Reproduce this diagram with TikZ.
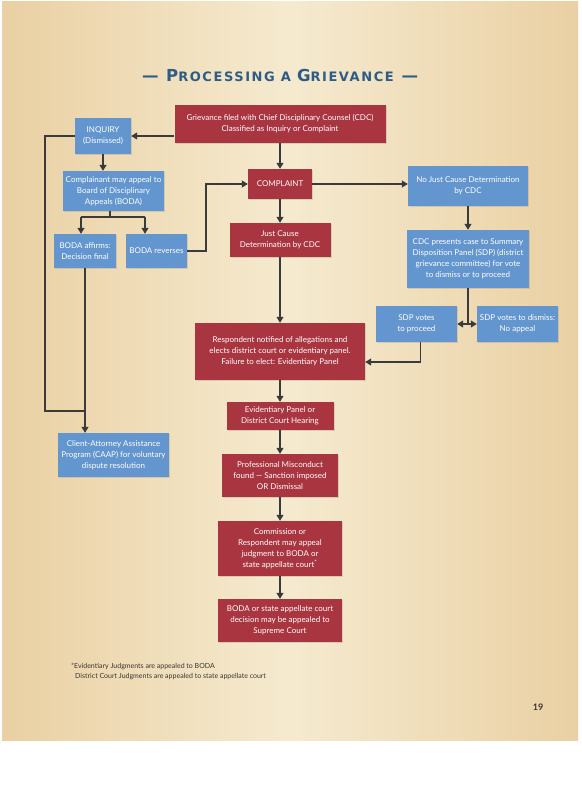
\documentclass[tikz,border=0pt]{standalone}
\usepackage{fontspec}
\setmainfont{Lato}
\newfontfamily\titlefont[LetterSpace=12]{DejaVu Sans}
\usetikzlibrary{arrows.meta,shadows}
\definecolor{bgdark}{HTML}{EAD0A3}
\definecolor{bglight}{HTML}{F5EACF}
\definecolor{boxred}{HTML}{A93540}
\definecolor{boxblue}{HTML}{6395CF}
\definecolor{ln}{HTML}{3A3A3A}
\definecolor{ttl}{HTML}{2D5C86}
\definecolor{note}{HTML}{3A3530}
\tikzset{
  box/.style={draw=none, text=white, align=center, inner sep=2pt,
    font=\fontsize{8}{11}\selectfont,
    drop shadow={opacity=0.25, shadow xshift=1pt, shadow yshift=-1pt}},
  redbox/.style={box, fill=boxred},
  bluebox/.style={box, fill=boxblue},
  conn/.style={draw=ln, line width=1.2pt},
  arr/.style={conn, -{Triangle[width=7pt,length=6pt]}},
  notetext/.style={text=note, anchor=west, inner sep=0pt, font=\fontsize{7}{8}\selectfont}
}
\begin{document}
\begin{tikzpicture}[x=1pt,y=-1pt]
\useasboundingbox (0,0) rectangle (581,800);
\fill[white] (0,0) rectangle (581,800);
\shade[left color=bgdark, right color=bgdark, middle color=bglight] (2,2) rectangle (578,740);

% title
\node[text=ttl, inner sep=0pt] (title) at (280,75)
  {\titlefont\bfseries{\fontsize{16.5}{16.5}\selectfont — P}{\fontsize{13}{13}\selectfont ROCESSING A }{\fontsize{16.5}{16.5}\selectfont G}{\fontsize{13}{13}\selectfont RIEVANCE}{\fontsize{16.5}{16.5}\selectfont\ —}};

% nodes
\node[redbox, minimum width=211pt, minimum height=38pt] (griev) at (280,124)
  {Grievance filed with Chief Disciplinary Counsel (CDC)\\Classified as Inquiry or Complaint};
\node[bluebox, minimum width=56pt, minimum height=36pt] (inq) at (103,136)
  {INQUIRY\\(Dismissed)};
\node[bluebox, minimum width=101pt, minimum height=40pt] (compl) at (113.5,191)
  {Complainant may appeal to\\Board of Disciplinary\\Appeals (BODA)};
\node[redbox, minimum width=64pt, minimum height=30pt] (complaint) at (280,184)
  {COMPLAINT};
\node[bluebox, minimum width=120pt, minimum height=40pt] (nojust) at (468,186)
  {No Just Cause Determination\\by CDC};
\node[bluebox, minimum width=122pt, minimum height=58pt] (cdcp) at (468,259)
  {CDC presents case to Summary\\Disposition Panel (SDP) (district\\grievance committee) for vote\\to dismiss or to proceed};
\node[bluebox, minimum width=81pt, minimum height=36pt] (proceed) at (416.5,324)
  {SDP votes\\to proceed};
\node[bluebox, minimum width=81pt, minimum height=36pt] (dismiss) at (517.5,324)
  {SDP votes to dismiss:\\No appeal};
\node[bluebox, minimum width=62pt, minimum height=34pt] (affirms) at (85,251)
  {BODA affirms:\\Decision final};
\node[bluebox, minimum width=61pt, minimum height=34pt] (reverses) at (156.5,251)
  {BODA reverses};
\node[redbox, minimum width=101pt, minimum height=34pt] (justcause) at (280,240)
  {Just Cause\\Determination by CDC};
\node[redbox, minimum width=170pt, minimum height=57pt] (resp) at (280,351.5)
  {Respondent notified of allegations and\\elects district court or evidentiary panel.\\Failure to elect: Evidentiary Panel};
\node[redbox, minimum width=107pt, minimum height=28pt] (evid) at (280,416)
  {Evidentiary Panel or\\District Court Hearing};
\node[bluebox, minimum width=111pt, minimum height=44pt] (caap) at (113.5,455)
  {Client-Attorney Assistance\\Program (CAAP) for voluntary\\dispute resolution};
\node[redbox, minimum width=116pt, minimum height=43pt] (prof) at (280,475.5)
  {Professional Misconduct\\found — Sanction imposed\\OR Dismissal};
\node[redbox, minimum width=124pt, minimum height=55pt] (comm) at (280,548.5)
  {Commission or\\Respondent may appeal\\judgment to BODA or\\state appellate court\textsuperscript{*}};
\node[redbox, minimum width=124pt, minimum height=43pt] (boda2) at (280,620.5)
  {BODA or state appellate court\\decision may be appealed to\\Supreme Court};

% helper coordinates
\coordinate (leftbend) at (45,411);
\coordinate (split) at (110,217);
\coordinate (splitL) at (81,217);
\coordinate (splitR) at (145,217);
\coordinate (revbend) at (206,184);
\coordinate (sdpsplit) at (468,324);
\coordinate (procout) at (420.5,342);

% connectors
\draw[arr] (griev.west |- inq.east) -- (inq.east);
\draw[arr] (griev.south) -- (complaint.north);
\draw[conn] (inq.west) -| (leftbend) -- (leftbend -| affirms.south);
\draw[arr] (affirms.south) -- (affirms.south |- caap.north);
\draw[arr] (inq.south) -- (inq.south |- compl.north);
\draw[conn] (split |- compl.south) -- (split);
\draw[conn] (splitL) -- (splitR);
\draw[arr] (splitL) -- (splitL |- affirms.north);
\draw[arr] (splitR) -- (splitR |- reverses.north);
\draw[arr] (reverses.east) -| (revbend) -- (complaint.west);
\draw[arr] (complaint.east) -- (complaint.east -| nojust.west);
\draw[arr] (complaint.south) -- (justcause.north);
\draw[arr] (justcause.south) -- (resp.north);
\draw[arr] (nojust.south) -- (cdcp.north);
\draw[conn] (cdcp.south) -- (sdpsplit);
\draw[arr] (sdpsplit) -- (proceed.east);
\draw[arr] (sdpsplit) -- (dismiss.west);
\draw[arr] (procout) |- ([yshift=-10.5pt]resp.east);
\draw[arr] (resp.south) -- (evid.north);
\draw[arr] (evid.south) -- (prof.north);
\draw[arr] (prof.south) -- (comm.north);
\draw[arr] (comm.south) -- (boda2.north);

% footnote and page number
\node[notetext] (fn1) at (71,666) {*Evidentiary Judgments are appealed to BODA};
\node[notetext] (fn2) at (75,677) {District Court Judgments are appealed to state appellate court};
\node[text=note, inner sep=0pt, font=\fontsize{9}{9}\selectfont\bfseries] (pg) at (538,707) {19};
\end{tikzpicture}
\end{document}
